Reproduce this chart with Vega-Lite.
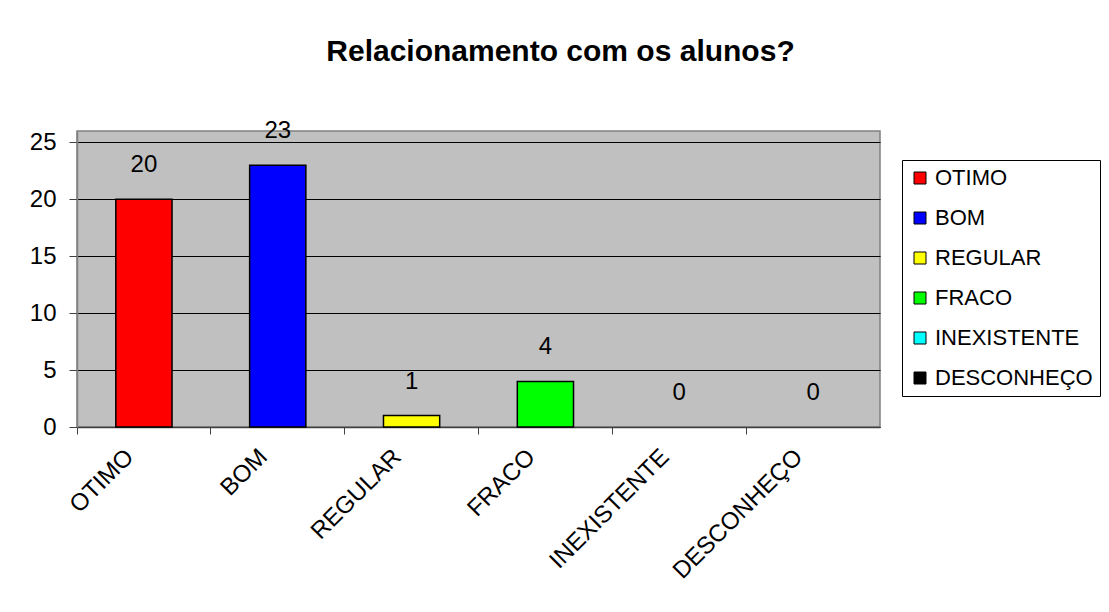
{
  "$schema": "https://vega.github.io/schema/vega-lite/v6.json",
  "width": 803,
  "height": 296,
  "autosize": "none",
  "padding": {"left": 77, "top": 131, "right": 229, "bottom": 185},
  "background": "white",
  "title": {
    "text": "Relacionamento com os alunos?",
    "font": "Liberation Sans",
    "fontSize": 30,
    "fontWeight": "bold",
    "color": "black",
    "anchor": "middle",
    "dx": 82,
    "offset": 52
  },
  "config": {
    "font": "Liberation Sans",
    "view": {"fill": "#C0C0C0", "stroke": "#808080", "strokeWidth": 1.5}
  },
  "data": {
    "values": [
      {"categoria": "OTIMO", "valor": 20},
      {"categoria": "BOM", "valor": 23},
      {"categoria": "REGULAR", "valor": 1},
      {"categoria": "FRACO", "valor": 4},
      {"categoria": "INEXISTENTE", "valor": 0},
      {"categoria": "DESCONHEÇO", "valor": 0}
    ]
  },
  "encoding": {
    "x": {
      "field": "categoria",
      "type": "nominal",
      "sort": null,
      "scale": {"paddingInner": 0, "paddingOuter": 0},
      "axis": {
        "title": null,
        "bandPosition": 0,
        "tickSize": 7,
        "tickColor": "#404040",
        "domainColor": "#404040",
        "domainWidth": 1.5,
        "labelAngle": -45,
        "labelAlign": "right",
        "labelBaseline": "middle",
        "labelFontSize": 24,
        "labelColor": "black",
        "labelOffset": -14,
        "labelPadding": 19,
        "labelLimit": 300,
        "grid": false
      }
    }
  },
  "layer": [
    {
      "transform": [{"filter": "datum.valor > 0"}],
      "mark": {"type": "bar", "width": {"band": 0.42}, "stroke": "black", "strokeWidth": 1.5},
      "encoding": {
        "y": {
          "field": "valor",
          "type": "quantitative",
          "scale": {"domain": [0, 25]},
          "axis": {
            "title": null,
            "values": [0, 5, 10, 15, 20, 25],
            "grid": true,
            "gridColor": "black",
            "gridWidth": 1,
            "domainColor": "#808080",
            "domainWidth": 1.5,
            "tickColor": "#404040",
            "tickSize": 8,
            "labelFontSize": 24,
            "labelColor": "black",
            "labelPadding": 13
          }
        },
        "color": {
          "field": "categoria",
          "type": "nominal",
          "sort": null,
          "scale": {
            "domain": ["OTIMO", "BOM", "REGULAR", "FRACO", "INEXISTENTE", "DESCONHEÇO"],
            "range": ["#FF0000", "#0000FF", "#FFFF00", "#00FF00", "#00FFFF", "#000000"]
          },
          "legend": {
            "title": null,
            "orient": "none",
            "legendX": 825,
            "legendY": 29,
            "symbolType": "square",
            "symbolSize": 144,
            "symbolStrokeColor": "black",
            "symbolStrokeWidth": 1,
            "symbolOpacity": 1,
            "labelFontSize": 22,
            "labelColor": "black",
            "labelOffset": 4,
            "labelLimit": 300,
            "rowPadding": 18,
            "padding": 7,
            "strokeColor": "black",
            "fillColor": "white"
          }
        }
      }
    },
    {
      "mark": {"type": "text", "baseline": "alphabetic", "dy": -27, "fontSize": 24, "color": "black"},
      "encoding": {
        "y": {"field": "valor", "type": "quantitative"},
        "text": {"field": "valor", "type": "quantitative"}
      }
    }
  ]
}
